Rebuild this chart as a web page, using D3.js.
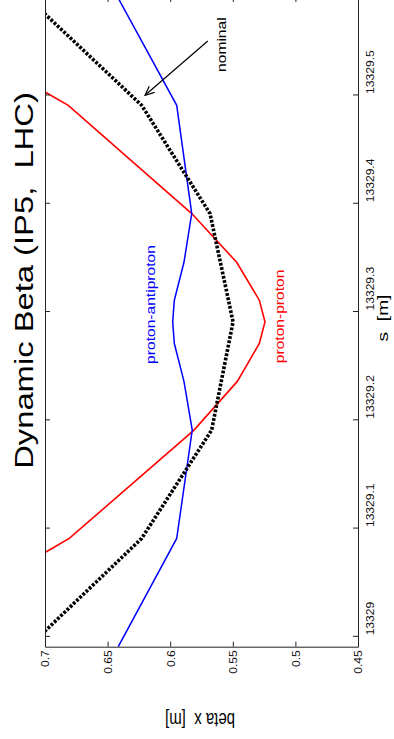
<!DOCTYPE html>
<html><head><meta charset="utf-8">
<script src="https://cdn.jsdelivr.net/npm/d3@7"></script>
<style>html,body{margin:0;padding:0;background:#fff;}svg{display:block;}text{font-family:"Liberation Sans",Arial,Helvetica,sans-serif;}</style>
</head><body>
<script>
// ---- data ----
const sValues = [13328.99, 13329.09, 13329.19, 13329.235, 13329.27, 13329.29, 13329.31, 13329.345, 13329.39, 13329.49, 13329.59];
const protonProton = [0.830, 0.6806, 0.5810, 0.5464, 0.5288, 0.5243, 0.5288, 0.5469, 0.5828, 0.6814, 0.833];
const protonAntiproton = [0.6415, 0.5948, 0.5824, 0.5890, 0.5967, 0.5980, 0.5967, 0.5890, 0.5828, 0.5948, 0.642];
const sNominal = [13328.99, 13329.09, 13329.19, 13329.29, 13329.39, 13329.49, 13329.59];
const betaNominal = [0.713, 0.6228, 0.5669, 0.5498, 0.5682, 0.6228, 0.7144];
const sTicks = [13329, 13329.1, 13329.2, 13329.3, 13329.4, 13329.5];
const sTickLabels = ["13329", "13329.1", "13329.2", "13329.3", "13329.4", "13329.5"];
const betaTicks = [0.7, 0.65, 0.6, 0.55, 0.5, 0.45];
const betaTickLabels = ["0.7", "0.65", "0.6", "0.55", "0.5", "0.45"];
const titleText = "Dynamic Beta (IP5,  LHC)";
const sLabel = "s  [m]";
const betaLabel = "beta x  [m]";

(function () {
const W = 394, H = 739;
const svg = d3.select("body").append("svg").attr("width", W).attr("height", H);
svg.append("rect").attr("width", W).attr("height", H).attr("fill", "#fff");

const sScale = d3.scaleLinear().domain([13328.99, 13329.59]).range([646.7, -3]);
const bScale = d3.scaleLinear().domain([0.7, 0.45]).range([45, 358]);
const x0 = bScale.range()[0], x1 = bScale.range()[1];
const yTop = sScale.range()[1], yBot = sScale.range()[0];

svg.append("clipPath").attr("id", "clip").append("rect")
  .attr("x", x0).attr("y", yTop).attr("width", x1 - x0).attr("height", yBot - yTop);

const plot = svg.append("g").attr("clip-path", "url(#clip)");
const line = d3.line().x(d => bScale(d[1])).y(d => sScale(d[0]));

plot.append("path").datum(sValues.map((s, i) => [s, protonProton[i]]))
  .attr("d", line).attr("fill", "none").attr("stroke", "#ff0000").attr("stroke-width", 1.6);
plot.append("path").datum(sValues.map((s, i) => [s, protonAntiproton[i]]))
  .attr("d", line).attr("fill", "none").attr("stroke", "#0000ff").attr("stroke-width", 1.5);
plot.append("path").datum(sNominal.map((s, i) => [s, betaNominal[i]]))
  .attr("d", line).attr("fill", "none").attr("stroke", "#000").attr("stroke-width", 3.6)
  .attr("stroke-dasharray", "2.8,1.6");

const axColor = "#222";
const fmtS = d => sTickLabels[sTicks.indexOf(d)];
const fmtB = d => betaTickLabels[betaTicks.indexOf(d)];

const axRight = svg.append("g").attr("transform", `translate(${x1},0)`)
  .call(d3.axisRight(sScale).tickValues(sTicks).tickSizeInner(-5).tickSizeOuter(0).tickFormat(fmtS));
axRight.selectAll("text").attr("x", null).attr("dy", null).attr("text-anchor", "start")
  .attr("transform", "translate(15.5,-1) rotate(-90) scale(1.1,1)").attr("font-size", 11).attr("fill", "#111");

svg.append("g").attr("transform", `translate(${x0},0)`)
  .call(d3.axisLeft(sScale).tickValues(sTicks).tickSizeInner(-5).tickSizeOuter(0).tickFormat(""));

const axBottom = svg.append("g").attr("transform", `translate(0,${yBot})`)
  .call(d3.axisBottom(bScale).tickValues(betaTicks).tickSizeInner(-5).tickSizeOuter(0).tickFormat(fmtB));
axBottom.selectAll("text").attr("y", null).attr("dy", null).attr("text-anchor", "end")
  .attr("transform", "translate(3.9,3.5) rotate(-90) scale(1.1,1)").attr("font-size", 11).attr("fill", "#111");

svg.append("g").attr("transform", `translate(0,${yTop})`)
  .call(d3.axisTop(bScale).tickValues(betaTicks).tickSizeInner(-5).tickSizeOuter(0).tickFormat(""));

svg.selectAll(".domain, .tick line").attr("stroke", axColor).attr("stroke-width", 1);
svg.selectAll(".tick text").attr("font-family", '"Liberation Sans",Arial,sans-serif');

svg.append("text").attr("transform", `translate(33,280.5) rotate(-90) scale(1.31,1)`)
  .attr("text-anchor", "middle").attr("font-size", 25)
  .style("white-space", "pre").attr("fill", "#000").text(titleText);

svg.append("text").attr("transform", `translate(388,318) rotate(-90) scale(1.28,1)`)
  .attr("text-anchor", "middle").attr("font-size", 15).style("white-space", "pre")
  .attr("fill", "#000").text(sLabel);

svg.append("text").attr("transform", `translate(200,713.4) rotate(180) scale(1,1.3)`)
  .attr("text-anchor", "middle").attr("font-size", 15).style("white-space", "pre")
  .attr("fill", "#000").text(betaLabel);

function vlabel(txt, beta, s, color) {
  svg.append("text").attr("transform", `translate(${bScale(beta)},${sScale(s)}) rotate(-90) scale(1.3,1)`)
    .attr("text-anchor", "middle").attr("font-size", 12).attr("fill", color).text(txt);
}
vlabel("proton-antiproton", 0.6125, 13329.306, "#0000ff");
vlabel("proton-proton", 0.5091, 13329.295, "#ff0000");
vlabel("nominal", 0.5554, 13329.546, "#000");

const tail = [bScale(0.5700), sScale(13329.5494)];
const tip = [bScale(0.6201), sScale(13329.4993)];
svg.append("line").attr("x1", tail[0]).attr("y1", tail[1]).attr("x2", tip[0]).attr("y2", tip[1])
  .attr("stroke", "#000").attr("stroke-width", 1.2);
const ang = Math.atan2(tail[1] - tip[1], tail[0] - tip[0]);
const hl = 10, ha = 24 * Math.PI / 180;
const pA = [tip[0] + hl * Math.cos(ang + ha), tip[1] + hl * Math.sin(ang + ha)];
const pB = [tip[0] + hl * Math.cos(ang - ha), tip[1] + hl * Math.sin(ang - ha)];
svg.append("path").attr("d", `M${pA[0]},${pA[1]}L${tip[0]},${tip[1]}L${pB[0]},${pB[1]}`)
  .attr("fill", "none").attr("stroke", "#000").attr("stroke-width", 1.2);
})();
</script>
</body></html>
